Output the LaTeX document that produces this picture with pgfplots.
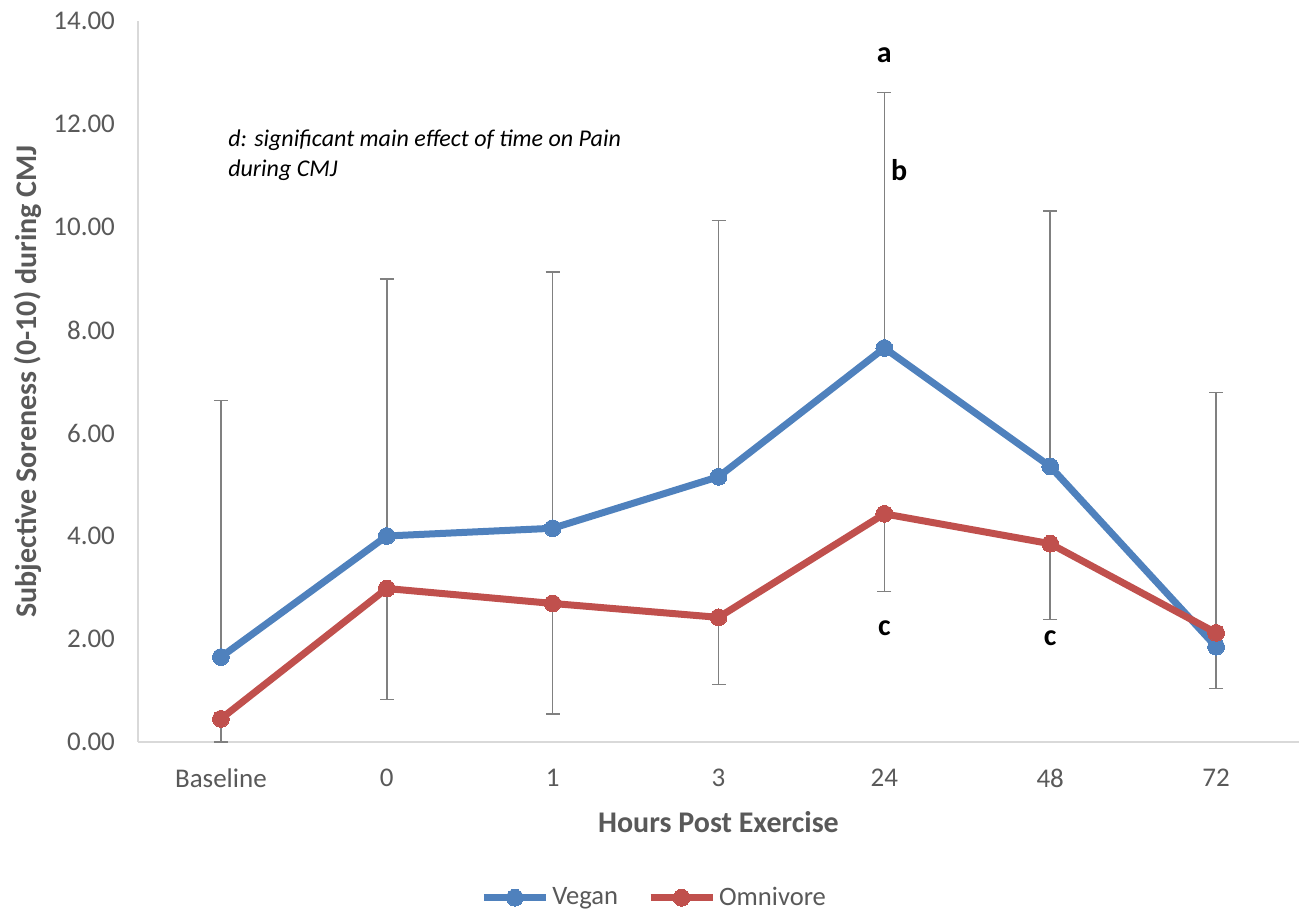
\documentclass[border=0pt]{standalone}
\usepackage{fontspec}
\setmainfont{Carlito}[Numbers={Monospaced,Lining}]
\usepackage{pgfplots}
\pgfplotsset{compat=1.18}
\definecolor{vegan}{RGB}{79,129,189}
\definecolor{omni}{RGB}{192,80,77}
\definecolor{txt}{RGB}{89,89,89}
\definecolor{axl}{RGB}{217,217,217}
\definecolor{eb}{RGB}{128,128,128}
\begin{document}
\begin{tikzpicture}
\begin{axis}[
  name=ax,
  scale only axis,
  width=580.5pt, height=360.5pt,
  xmin=-0.5, xmax=6.5,
  ymin=0, ymax=14,
  xtick={0,1,2,3,4,5,6},
  xticklabels={Baseline,0,1,3,24,48,72},
  ytick={0,2,4,6,8,10,12,14},
  yticklabel={\pgfmathprintnumber[assume math mode=true,fixed,fixed zerofill,precision=2]{\tick}},
  major tick length=0pt,
  axis lines*=left,
  axis line style={draw=axl, line width=0.9pt},
  tick label style={font=\fontsize{13.5}{16}\selectfont, text=txt},
  yticklabel style={xshift=-8pt},
  xticklabel style={yshift=-10pt},
  xlabel={\textbf{Hours Post Exercise}},
  ylabel={\textbf{Subjective Soreness (0-10) during CMJ}},
  label style={font=\fontsize{15}{18}\selectfont, text=txt},
  xlabel style={at={(axis description cs:0.5,-0.111)}, anchor=center},
  ylabel style={at={(axis description cs:-0.0947,0.5)}, anchor=center},
  legend style={at={(axis description cs:0.445,-0.216)}, anchor=center, draw=none, font=\fontsize{13.3}{16}\selectfont, text=txt, nodes={inner sep=1.5pt}, /tikz/every even column/.append style={column sep=13pt}},
  legend image code/.code={\draw[mark repeat=2,mark phase=2,#1] plot coordinates {(0pt,0pt) (15.5pt,0pt) (31pt,0pt)};},
  legend columns=2,
  clip=false,
]
\addplot[color=vegan, line width=3.5pt, mark=*, mark size=4.2pt, mark options={fill=vegan, draw=vegan, line width=0pt},
  error bars/.cd, y dir=plus, y explicit,
  error bar style={color=eb, line width=0.75pt},
  error mark options={rotate=90, mark size=3.5pt, line width=0.75pt, color=eb}]
coordinates {
(0,1.65) +- (0,4.98)
(1,4.00) +- (0,4.99)
(2,4.15) +- (0,4.98)
(3,5.15) +- (0,4.98)
(4,7.65) +- (0,4.96)
(5,5.35) +- (0,4.96)
(6,1.85) +- (0,4.94)
};
\addlegendentry{Vegan}
\addplot[color=omni, line width=3.5pt, mark=*, mark size=4.2pt, mark options={fill=omni, draw=omni, line width=0pt},
  error bars/.cd, y dir=minus, y explicit,
  error bar style={color=eb, line width=0.75pt},
  error mark options={rotate=90, mark size=3.5pt, line width=0.75pt, color=eb}]
coordinates {
(0,0.45) +- (0,0.45)
(1,2.98) +- (0,2.15)
(2,2.69) +- (0,2.15)
(3,2.42) +- (0,1.30)
(4,4.43) +- (0,1.51)
(5,3.85) +- (0,1.47)
(6,2.12) +- (0,1.08)
};
\addlegendentry{Omnivore}
\node[font=\fontsize{15}{18}\selectfont\bfseries] at (axis cs:4,13.34) {a};
\node[font=\fontsize{15}{18}\selectfont\bfseries] at (axis cs:4.09,11.1) {b};
\node[font=\fontsize{15}{18}\selectfont\bfseries] at (axis cs:4,2.2) {c};
\node[font=\fontsize{15}{18}\selectfont\bfseries] at (axis cs:5,2.01) {c};
\node[font=\fontsize{12}{15}\selectfont\itshape, anchor=west, align=left, inner sep=0pt] at (axis cs:0.042,11.39) {d: significant main effect of time on Pain\\during CMJ};
\end{axis}
\pgfresetboundingbox
\path[use as bounding box] ([shift={(-69pt,-85.5pt)}]ax.south west) rectangle ([shift={(0pt,10.5pt)}]ax.north east);
\end{tikzpicture}
\end{document}
